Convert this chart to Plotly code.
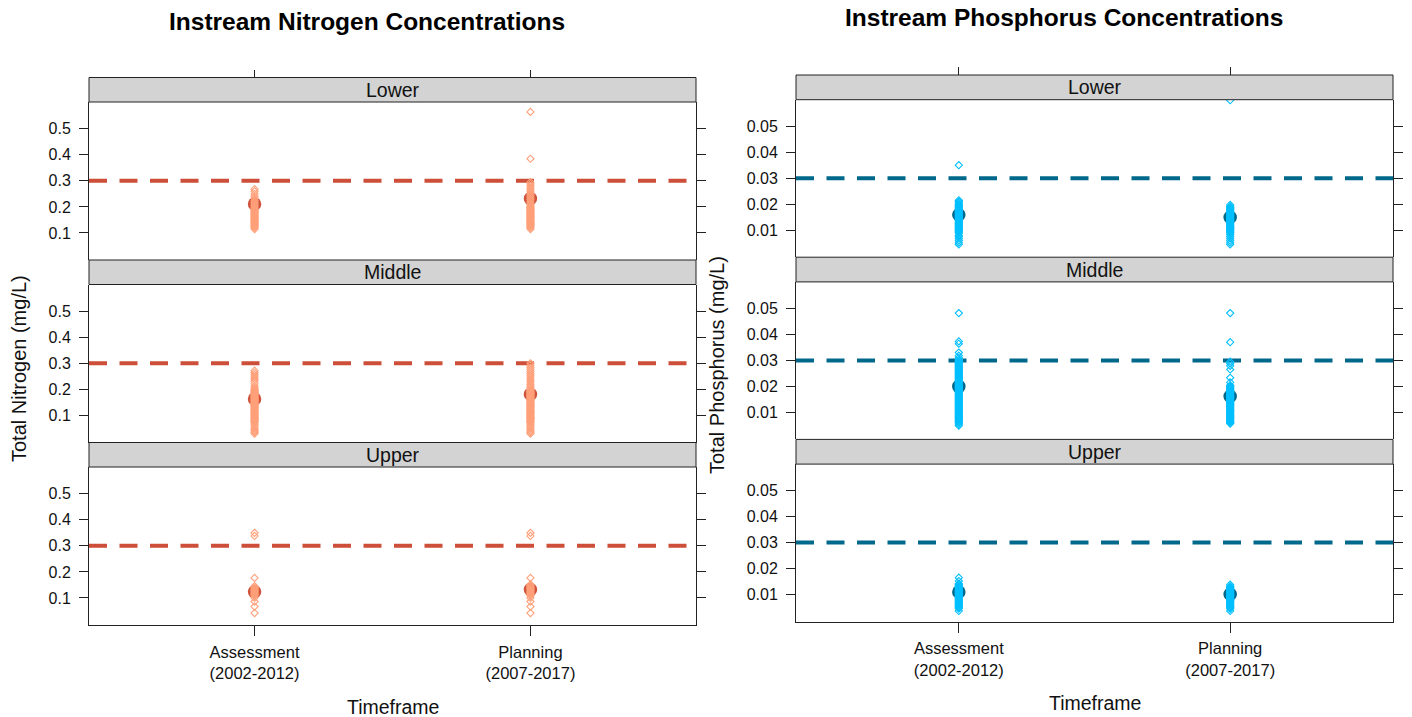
import plotly.graph_objects as go

# ---------------- data ----------------
CATEGORIES = ["Assessment<br>(2002-2012)", "Planning<br>(2007-2017)"]
REGIONS = ["Lower", "Middle", "Upper"]

N_THRESHOLD = 0.3
P_THRESHOLD = 0.03

N_LOWER_ASSESS = [0.268, 0.26, 0.25, 0.24, 0.232, 0.225, 0.218, 0.212, 0.205, 0.2, 0.195, 0.19, 0.187,
                  0.184, 0.181, 0.178, 0.175, 0.172, 0.169, 0.166, 0.163, 0.16, 0.157, 0.154, 0.151,
                  0.148, 0.145, 0.142, 0.139, 0.136, 0.133, 0.13, 0.127, 0.124, 0.12, 0.115]
N_LOWER_PLAN = [0.565, 0.385, 0.295, 0.288, 0.28, 0.272, 0.265, 0.258, 0.25, 0.243, 0.236, 0.229, 0.222,
                0.215, 0.209, 0.203, 0.2, 0.197, 0.194, 0.191, 0.188, 0.185, 0.182, 0.179, 0.176,
                0.173, 0.17, 0.167, 0.164, 0.161, 0.158, 0.155, 0.152, 0.149, 0.146, 0.143, 0.14,
                0.137, 0.134, 0.131, 0.128, 0.124, 0.12, 0.115]
N_MIDDLE_ASSESS = [0.272, 0.264, 0.256, 0.248, 0.24, 0.232, 0.222, 0.212, 0.205, 0.2, 0.197, 0.194,
                   0.191, 0.188, 0.185, 0.182, 0.179, 0.176, 0.173, 0.17, 0.167, 0.164, 0.161, 0.158,
                   0.155, 0.152, 0.149, 0.146, 0.143, 0.14, 0.137, 0.134, 0.131, 0.128, 0.125, 0.122,
                   0.119, 0.116, 0.113, 0.11, 0.107, 0.104, 0.101, 0.098, 0.095, 0.092, 0.089, 0.086,
                   0.083, 0.08, 0.077, 0.074, 0.071, 0.064, 0.058, 0.05, 0.045, 0.04, 0.035, 0.03]
N_MIDDLE_PLAN = [0.3, 0.292, 0.284, 0.276, 0.268, 0.26, 0.252, 0.244, 0.236, 0.228, 0.22, 0.213, 0.207,
                 0.2, 0.197, 0.194, 0.191, 0.188, 0.185, 0.182, 0.179, 0.176, 0.173, 0.17, 0.167,
                 0.164, 0.161, 0.158, 0.155, 0.152, 0.149, 0.146, 0.143, 0.14, 0.137, 0.134, 0.131,
                 0.128, 0.125, 0.122, 0.119, 0.116, 0.113, 0.11, 0.107, 0.104, 0.101, 0.098, 0.095,
                 0.092, 0.089, 0.086, 0.083, 0.08, 0.077, 0.074, 0.071, 0.064, 0.058, 0.052, 0.046,
                 0.04, 0.035, 0.03]
N_UPPER_ASSESS = [0.35, 0.338, 0.177, 0.145, 0.14, 0.136, 0.132, 0.128, 0.124, 0.12, 0.116, 0.112,
                  0.108, 0.1, 0.086, 0.067, 0.042]
N_UPPER_PLAN = [0.35, 0.338, 0.177, 0.152, 0.148, 0.144, 0.14, 0.136, 0.132, 0.128, 0.124, 0.12,
                0.116, 0.112, 0.108, 0.1, 0.086, 0.067, 0.042]

N_MEANS_LOWER = [0.211, 0.232]
N_MEANS_MIDDLE = [0.163, 0.181]
N_MEANS_UPPER = [0.124, 0.132]

P_LOWER_ASSESS = [0.035, 0.0215, 0.021, 0.0205, 0.02, 0.0197, 0.0194, 0.0191, 0.0188, 0.0185, 0.0182,
                  0.0179, 0.0176, 0.0173, 0.017, 0.0167, 0.0164, 0.0161, 0.0158, 0.0155, 0.0152,
                  0.0149, 0.0146, 0.0143, 0.014, 0.0137, 0.0134, 0.0131, 0.0128, 0.0125, 0.0122,
                  0.0119, 0.0116, 0.0113, 0.011, 0.0107, 0.0104, 0.0101, 0.0098, 0.0095, 0.0092,
                  0.0089, 0.008, 0.0075, 0.0068, 0.006, 0.0052, 0.0045]
P_LOWER_PLAN = [0.06, 0.0197, 0.0192, 0.0188, 0.0185, 0.0182, 0.0179, 0.0176, 0.0173, 0.017, 0.0167,
                0.0164, 0.0161, 0.0158, 0.0155, 0.0152, 0.0149, 0.0146, 0.0143, 0.014, 0.0137,
                0.0134, 0.0131, 0.0128, 0.0125, 0.0122, 0.0119, 0.0116, 0.0113, 0.011, 0.0107,
                0.0104, 0.0101, 0.0098, 0.0095, 0.0092, 0.0089, 0.0082, 0.0075, 0.0068, 0.006,
                0.0052, 0.0045]
P_MIDDLE_ASSESS = [0.0482, 0.0373, 0.0364, 0.033, 0.0318, 0.031, 0.0303, 0.03, 0.0297, 0.0294, 0.0291,
                   0.0288, 0.0285, 0.0282, 0.0279, 0.0276, 0.0273, 0.027, 0.0267, 0.0264, 0.0261,
                   0.0258, 0.0255, 0.0252, 0.0249, 0.0246, 0.0243, 0.024, 0.0237, 0.0234, 0.0231,
                   0.0228, 0.0225, 0.0222, 0.0219, 0.0216, 0.0213, 0.021, 0.0207, 0.0204, 0.0201,
                   0.0198, 0.0195, 0.0192, 0.0189, 0.0186, 0.0183, 0.018, 0.0177, 0.0174, 0.0171,
                   0.0168, 0.0165, 0.0162, 0.0159, 0.0156, 0.0153, 0.015, 0.0147, 0.0144, 0.0141,
                   0.0138, 0.0135, 0.0132, 0.0129, 0.0126, 0.0123, 0.012, 0.0117, 0.0114, 0.0111,
                   0.0108, 0.0105, 0.0102, 0.0099, 0.0096, 0.0093, 0.009, 0.0087, 0.0084, 0.0081,
                   0.0078, 0.0075, 0.0072, 0.0069, 0.0066, 0.0063, 0.006, 0.0055, 0.0049]
P_MIDDLE_PLAN = [0.0482, 0.037, 0.0295, 0.0288, 0.0279, 0.0265, 0.0233, 0.0215, 0.0204, 0.0201, 0.0198,
                 0.0195, 0.0192, 0.0189, 0.0186, 0.0183, 0.018, 0.0177, 0.0174, 0.0171, 0.0168,
                 0.0165, 0.0162, 0.0159, 0.0156, 0.0153, 0.015, 0.0147, 0.0144, 0.0141, 0.0138,
                 0.0135, 0.0132, 0.0129, 0.0126, 0.0123, 0.012, 0.0117, 0.0114, 0.0111, 0.0108,
                 0.0105, 0.0102, 0.0099, 0.0096, 0.0093, 0.009, 0.0087, 0.0084, 0.0081, 0.0078,
                 0.0075, 0.0072, 0.0069, 0.0066, 0.0063, 0.006, 0.0057]
P_UPPER_ASSESS = [0.0165, 0.0152, 0.0142, 0.0139, 0.0136, 0.0133, 0.013, 0.0127, 0.0124, 0.0121,
                  0.0118, 0.0115, 0.0112, 0.0109, 0.0106, 0.0103, 0.01, 0.0097, 0.0094, 0.0091,
                  0.0088, 0.0085, 0.0082, 0.0079, 0.0076, 0.0073, 0.007, 0.0067, 0.0064, 0.0061,
                  0.0058, 0.0055, 0.0052, 0.0049, 0.0046, 0.0037]
P_UPPER_PLAN = [0.0138, 0.0132, 0.0129, 0.0126, 0.0123, 0.012, 0.0117, 0.0114, 0.0111, 0.0108,
                0.0105, 0.0102, 0.0099, 0.0096, 0.0093, 0.009, 0.0087, 0.0084, 0.0081, 0.0078,
                0.0075, 0.0072, 0.0069, 0.0066, 0.0063, 0.006, 0.0057, 0.0054, 0.0051, 0.0048,
                0.0045, 0.0037]

P_MEANS_LOWER = [0.0159, 0.0150]
P_MEANS_MIDDLE = [0.0200, 0.0162]
P_MEANS_UPPER = [0.0110, 0.0101]

N_TICKS = [0.1, 0.2, 0.3, 0.4, 0.5]
P_TICKS = [0.01, 0.02, 0.03, 0.04, 0.05]

# ---------------- style / layout constants ----------------
W, H = 1412, 717
FONT = "Liberation Sans"
N_LINE = "#CD4F39"
N_PT = "#FFA07A"
N_MEAN = "#D0543C"
P_LINE = "#00688B"
P_PT = "#00BFFF"
P_MEAN = "#00688B"
STRIP_FILL = "#D3D3D3"
EDGE = "#222222"


def px_x(p):
    return p / W


def px_y(p):
    return 1 - p / H


columns = [
    dict(x0=89, x1=696, top=77.5, strip=24.5, plot=158.0, yrange=[-0.004, 0.603], ticks=N_TICKS,
         thr=N_THRESHOLD, line=N_LINE, pt=N_PT, mean=N_MEAN,
         data=[(N_LOWER_ASSESS, N_LOWER_PLAN, N_MEANS_LOWER),
               (N_MIDDLE_ASSESS, N_MIDDLE_PLAN, N_MEANS_MIDDLE),
               (N_UPPER_ASSESS, N_UPPER_PLAN, N_MEANS_UPPER)],
         title="Instream Nitrogen Concentrations", tx=366.5, ty=21,
         ytitle="Total Nitrogen (mg/L)", yx=19, yy=369, xty=707),
    dict(x0=796, x1=1393, top=75.0, strip=24.7, plot=157.5, yrange=[-0.0004, 0.0602], ticks=P_TICKS,
         thr=P_THRESHOLD, line=P_LINE, pt=P_PT, mean=P_MEAN,
         data=[(P_LOWER_ASSESS, P_LOWER_PLAN, P_MEANS_LOWER),
               (P_MIDDLE_ASSESS, P_MIDDLE_PLAN, P_MEANS_MIDDLE),
               (P_UPPER_ASSESS, P_UPPER_PLAN, P_MEANS_UPPER)],
         title="Instream Phosphorus Concentrations", tx=1064, ty=17,
         ytitle="Total Phosphorus (mg/L)", yx=717, yy=365, xty=703),
]

fig = go.Figure()
layout = dict(width=W, height=H, margin=dict(l=0, r=0, t=0, b=0),
              paper_bgcolor="white", plot_bgcolor="white", showlegend=False,
              font=dict(family=FONT, color="black"))
shapes = []
annotations = []

idx = 0
for c, col in enumerate(columns):
    xd = [px_x(col["x0"]), px_x(col["x1"])]
    for r, region in enumerate(REGIONS):
        idx += 1
        sfx = "" if idx == 1 else str(idx)
        xname, yname = "x" + sfx, "y" + sfx
        strip_top = col["top"] + r * (col["strip"] + col["plot"])
        strip_bot = strip_top + col["strip"]
        plot_bot = strip_bot + col["plot"]

        assess, plan, means = col["data"][r]
        # mean circles (behind)
        fig.add_trace(go.Scatter(x=CATEGORIES, y=means, mode="markers", xaxis=xname, yaxis=yname,
                                 marker=dict(symbol="circle", size=13.5, color=col["mean"],
                                             line=dict(width=0)), hoverinfo="skip"))
        # individual observations
        xs = [CATEGORIES[0]] * len(assess) + [CATEGORIES[1]] * len(plan)
        ys = list(assess) + list(plan)
        fig.add_trace(go.Scatter(x=xs, y=ys, mode="markers", xaxis=xname, yaxis=yname,
                                 marker=dict(symbol="diamond-open", size=5.5, color=col["pt"],
                                             line=dict(width=1.1, color=col["pt"])), hoverinfo="skip"))

        xa = dict(domain=xd, type="category", categoryorder="array", categoryarray=CATEGORIES,
                  range=[-0.6, 1.6], showgrid=False, zeroline=False, fixedrange=True)
        if r == 0:
            xa.update(anchor="free", position=px_y(col["top"]), side="top", showline=False,
                      ticks="outside", ticklen=8, tickcolor=EDGE, tickwidth=1, showticklabels=False)
        elif r == 1:
            xa.update(anchor=yname, showline=False, ticks="", showticklabels=False)
        else:
            xa.update(anchor=yname, side="bottom", showline=True, linecolor=EDGE, linewidth=1,
                      ticks="outside", ticklen=10, tickcolor=EDGE, tickwidth=1, ticklabelstandoff=2,
                      tickfont=dict(family=FONT, size=16.5, color="#111111"))
        layout["xaxis" + sfx] = xa

        layout["yaxis" + sfx] = dict(
            domain=[px_y(plot_bot), px_y(strip_bot)], anchor=xname, range=col["yrange"],
            tickvals=col["ticks"], showgrid=False, zeroline=False, showline=True, mirror="ticks",
            linecolor=EDGE, linewidth=1, ticks="outside", ticklen=9, tickcolor=EDGE, tickwidth=1,
            ticklabelstandoff=5,
            tickfont=dict(family=FONT, size=16, color="#111111"), fixedrange=True)

        # threshold line
        shapes.append(dict(type="line", xref=xname + " domain", yref=yname, x0=0, x1=1,
                           y0=col["thr"], y1=col["thr"], layer="below",
                           line=dict(color=col["line"], width=4, dash="18px,12.5px")))
        # strip
        shapes.append(dict(type="rect", xref="paper", yref="paper", x0=xd[0], x1=xd[1],
                           y0=px_y(strip_bot), y1=px_y(strip_top), fillcolor=STRIP_FILL,
                           line=dict(color=EDGE, width=1), layer="above"))
        annotations.append(dict(text=region, xref="paper", yref="paper",
                                x=(xd[0] + xd[1]) / 2, y=px_y((strip_top + strip_bot) / 2),
                                xanchor="center", yanchor="middle", showarrow=False,
                                font=dict(family=FONT, size=19.5, color="#111111")))

    annotations.append(dict(text="<b>" + col["title"] + "</b>", xref="paper", yref="paper",
                            x=px_x(col["tx"]), y=px_y(col["ty"]), xanchor="center", yanchor="middle",
                            showarrow=False, font=dict(family=FONT, size=24.5, color="black")))
    annotations.append(dict(text=col["ytitle"], xref="paper", yref="paper", textangle=-90,
                            x=px_x(col["yx"]), y=px_y(col["yy"]), xanchor="center", yanchor="middle",
                            showarrow=False, font=dict(family=FONT, size=20, color="#111111")))
    annotations.append(dict(text="Timeframe", xref="paper", yref="paper",
                            x=(xd[0] + xd[1]) / 2, y=px_y(col["xty"]), xanchor="center",
                            yanchor="middle", showarrow=False,
                            font=dict(family=FONT, size=19.5, color="#111111")))

layout["shapes"] = shapes
layout["annotations"] = annotations
fig.update_layout(**layout)
fig.write_html("out.html")
